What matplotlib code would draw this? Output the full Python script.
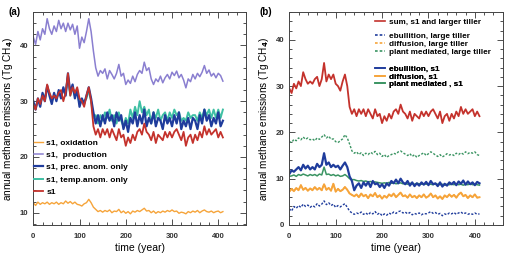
import matplotlib
matplotlib.use("Agg")
import matplotlib.pyplot as plt
from matplotlib.ticker import MultipleLocator

plt.rcParams["font.family"] = ["Liberation Sans", "DejaVu Sans"]
plt.rcParams["font.weight"] = "bold"
plt.rcParams["mathtext.default"] = "bf"

# sampled every 5 years, 0..410
YEARS = list(range(0, 411, 5))

# panel (a)
oxidation = [
    11.8, 11.3, 11.9, 11.5, 11.8, 11.6, 11.9, 11.5, 11.8, 11.6,
    11.9, 11.5, 11.8, 11.6, 12.1, 11.7, 12.0, 11.6, 11.9, 11.5,
    11.4, 11.2, 11.6, 11.8, 12.4, 11.8, 11.0, 10.6, 10.2, 10.4,
    10.1, 10.4, 10.2, 10.5, 10.0, 10.3, 10.2, 10.6, 10.0, 10.3,
    9.9, 10.2, 9.8, 10.3, 10.1, 10.4, 10.2, 10.5, 10.8, 10.3,
    10.4, 10.0, 10.3, 9.9, 10.2, 10.0, 10.3, 10.1, 10.4, 10.2,
    10.5, 10.2, 10.3, 9.9, 10.1, 10.0, 9.8, 10.2, 10.0, 10.3,
    10.1, 10.4, 10.0, 10.3, 10.5, 10.2, 10.1, 10.3, 10.0, 10.2,
    10.3, 10.0, 10.2,
]
production = [
    41.5, 40.2, 42.5, 41.0, 43.0, 42.0, 44.8, 43.0, 42.0, 43.5,
    42.5, 44.5, 43.0, 44.0, 42.5, 44.0, 42.8, 43.8, 42.0, 43.5,
    39.5, 41.5, 40.5, 42.5, 44.8, 42.5, 39.0, 36.0, 34.5, 35.5,
    35.0, 35.8, 34.0, 35.5, 34.8, 34.0, 35.0, 36.6, 34.5, 35.0,
    33.0, 33.8, 33.2, 34.5, 33.5, 34.8, 35.5, 35.0, 37.0, 35.5,
    36.0, 34.0, 33.0, 34.0, 33.5, 34.5, 33.3, 34.2, 34.8, 34.0,
    35.2, 34.6, 35.4, 34.2, 34.8, 33.8, 32.4, 34.0, 33.5, 34.8,
    34.0, 35.0, 34.4, 35.2, 36.4, 35.0, 35.6, 34.5, 35.0, 34.2,
    35.0, 34.6, 33.6,
]
prec_only = [
    30.0, 28.5, 30.5, 29.0, 31.5, 30.0, 32.8, 31.0, 29.5, 31.5,
    30.0, 32.0, 30.5, 32.5, 31.0, 35.0, 31.5, 33.0, 30.5, 32.0,
    29.0, 30.5, 29.5, 31.0, 32.5, 30.5, 28.0, 26.0, 27.5, 25.5,
    27.5, 26.0, 28.0, 26.5, 27.5, 25.5, 28.0, 26.5, 27.5, 25.0,
    26.5, 24.5, 27.0, 26.0, 28.0, 25.5, 27.5, 26.0, 28.5, 25.5,
    27.0, 26.0, 28.0, 25.5, 27.0, 26.5, 25.0, 27.5, 26.0, 27.0,
    25.5, 27.5, 26.0, 28.0, 25.0, 26.5, 25.5, 27.0, 25.0, 27.0,
    26.5, 25.0, 27.5, 26.0, 28.5, 26.5, 27.5, 25.5, 27.0, 26.0,
    28.0, 25.5, 26.5,
]
temp_only = [
    29.5, 28.8, 30.2, 29.5, 31.0, 30.5, 32.5, 31.5, 30.0, 31.0,
    30.5, 31.5, 31.0, 32.0, 31.5, 34.5, 31.0, 32.5, 31.0, 31.5,
    29.5, 30.0, 30.0, 30.5, 32.0, 30.0, 27.0, 27.5, 26.0, 27.5,
    26.5, 28.0, 27.0, 28.5, 26.5, 27.5, 26.0, 28.0, 26.5, 25.5,
    27.0, 26.0, 28.5, 27.0, 29.0, 27.5, 30.0, 28.0, 29.0, 27.5,
    28.5, 26.0, 28.0, 27.0, 28.5, 26.5, 27.5, 28.0, 26.5, 28.0,
    27.0, 28.5, 27.5, 28.0, 26.5, 27.0, 26.5, 28.0, 27.0, 27.5,
    27.5, 26.5, 28.0, 27.0, 28.5, 27.5, 28.5, 27.0, 28.5, 27.0,
    28.5, 27.0, 28.5,
]
s1_total = [
    29.5, 28.5, 30.5, 29.5, 31.0, 30.0, 33.0, 31.5, 30.5, 31.0,
    30.5, 31.5, 32.0, 30.0, 31.5, 35.0, 31.0, 32.5, 31.5, 32.5,
    30.5, 30.0, 29.0, 31.0, 32.5, 30.0, 25.5, 24.0, 25.0, 23.5,
    25.0, 24.0, 25.0, 23.5, 25.0, 24.0, 23.0, 25.0, 23.5, 24.0,
    22.0, 23.5, 22.5, 24.0, 23.0, 24.5, 25.0, 24.0, 26.0, 24.5,
    24.0, 23.0, 24.5, 22.5, 24.0, 23.5, 23.0, 24.5, 23.5, 24.5,
    23.5, 24.5, 25.0, 24.0, 23.0, 24.5, 22.0, 23.5, 24.0, 22.5,
    24.0, 23.0, 24.5, 23.5, 25.5, 24.0, 25.0, 24.0, 24.5, 25.0,
    23.5, 24.5, 23.5,
]

# panel (b)
plant_lt = [
    18.0, 17.8, 18.5, 18.2, 18.8, 18.4, 19.0, 18.5, 18.8, 18.4,
    18.6, 18.2, 18.8, 18.5, 19.0, 19.5, 18.8, 19.2, 18.5, 18.6,
    18.0, 17.8, 18.2, 18.6, 19.5, 18.8, 17.5, 16.0, 15.5, 15.8,
    15.2, 15.6, 15.0, 15.5, 15.2, 15.7, 15.4, 15.9, 15.2, 15.5,
    14.8, 15.2, 14.6, 15.0, 15.2, 15.5, 15.3, 15.8, 16.0, 15.6,
    15.3, 15.0, 15.4, 14.8, 15.2, 14.6, 15.0, 15.3, 15.6, 15.0,
    15.4, 15.8, 15.5, 15.1, 14.8, 15.2, 14.7, 15.0, 15.4, 15.1,
    15.3, 15.0, 15.5, 15.2, 15.6, 15.3, 15.8, 15.4, 15.7, 15.5,
    15.8, 15.2, 15.0,
]
ebullition_s1 = [
    11.0, 11.8, 11.5, 12.0, 12.5, 11.8, 13.0, 12.2, 12.8, 12.0,
    12.5, 12.0, 13.2, 12.5, 13.0, 15.5, 13.0, 13.5, 12.5, 13.0,
    12.5, 12.8, 12.0, 12.8, 13.5, 12.5, 10.5, 9.5, 7.5, 8.5,
    9.0, 8.0, 9.2, 8.5, 9.3, 8.2, 9.5, 8.8, 9.0, 8.2,
    8.8, 8.0, 9.0, 8.5, 9.5, 9.0, 9.8, 9.0, 10.0, 9.2,
    8.8, 9.5, 8.5, 9.2, 8.4, 9.0, 8.5, 9.2, 8.7, 9.3,
    8.6, 9.5, 8.8, 9.0, 8.4, 9.2, 8.3, 8.9, 8.5, 9.2,
    8.8, 9.3, 8.6, 9.4, 8.9, 9.6, 8.7, 9.4, 8.8, 9.2,
    8.6, 9.3, 9.0,
]
plant_s1 = [
    10.5, 10.6, 10.8, 10.5, 10.9, 10.7, 11.0, 10.8, 10.6, 10.9,
    10.7, 10.9, 10.6, 11.0, 10.8, 12.5, 10.9, 11.0, 10.7, 10.9,
    10.6, 10.8, 10.5, 10.6, 10.9, 10.5, 10.0, 9.8, 9.8, 9.6,
    9.5, 9.6, 9.4, 9.5, 9.3, 9.4, 9.2, 9.3, 9.2, 9.1,
    9.0, 9.1, 9.0, 9.2, 9.0, 9.1, 8.9, 9.0, 9.1, 8.9,
    9.0, 8.8, 9.0, 8.9, 8.8, 9.0, 8.9, 8.8, 8.9, 8.8,
    8.9, 8.8, 8.7, 8.9, 8.8, 8.7, 8.8, 8.6, 8.8, 8.7,
    8.8, 8.7, 8.9, 8.7, 8.8, 8.6, 8.8, 8.7, 8.9, 8.7,
    8.8, 8.7, 8.6,
]
diffusion_s1 = [
    7.2, 7.8, 7.3, 8.0, 7.5, 8.6, 7.6, 8.0, 7.4, 7.9,
    7.5, 8.2, 7.6, 8.0, 7.5, 8.8, 7.6, 8.0, 7.4, 8.9,
    7.2, 7.8, 7.3, 7.6, 8.2, 7.6, 6.8, 6.5, 6.2, 6.6,
    6.0, 6.8, 6.2, 6.5, 5.8, 6.6, 6.2, 6.9, 6.0, 6.4,
    5.7, 6.3, 5.9, 6.6, 6.2, 6.8, 6.0, 6.5, 7.0, 6.2,
    6.4, 5.9, 6.6, 6.0, 6.3, 5.8, 6.4, 6.0, 6.6, 5.9,
    6.2, 6.8, 6.0, 6.4, 5.7, 6.2, 5.6, 6.4, 6.0, 6.6,
    6.1, 6.5, 5.9, 6.6, 7.0, 6.2, 6.5, 5.8, 6.4, 6.0,
    6.6, 5.9, 6.0,
]
# diffusion does not change with tiller size; hidden under the s1 curve
diffusion_lt = diffusion_s1
ebullition_lt = [
    3.5, 3.0, 4.0, 3.6, 4.2, 3.8, 4.5, 4.0, 4.3, 3.8,
    4.2, 3.9, 4.6, 4.1, 4.5, 5.2, 4.4, 4.8, 4.2, 4.5,
    3.8, 4.2, 3.9, 4.3, 4.6, 3.8, 3.0, 2.6, 2.3, 2.6,
    2.4, 2.8, 2.3, 2.6, 2.2, 2.7, 2.4, 2.9, 2.3, 2.6,
    2.0, 2.4, 2.1, 2.6, 2.3, 2.8, 2.5, 2.9, 3.0, 2.6,
    2.8, 2.4, 2.7, 2.2, 2.5, 2.3, 2.6, 2.2, 2.5, 2.4,
    2.6, 2.9, 2.5, 2.7, 2.3, 2.5, 2.0, 2.4, 2.2, 2.6,
    2.4, 2.7, 2.3, 2.6, 2.8, 2.4, 2.6, 2.3, 2.5, 2.3,
    2.6, 2.3, 2.4,
]

RED = "#c4322c"
PURPLE = "#8a7fd0"
BLUE = "#1f3c9c"
TEAL = "#3fc0a4"
ORANGE = "#f6a43a"
GREEN = "#3a9462"
DOT = (0, (1.6, 1.2))


def style(ax, ylim, ymajor):
    ax.set_xlim(0, 460)
    ax.set_ylim(*ylim)
    ax.xaxis.set_major_locator(MultipleLocator(100))
    ax.xaxis.set_minor_locator(MultipleLocator(20))
    ax.yaxis.set_major_locator(MultipleLocator(ymajor))
    ax.yaxis.set_minor_locator(MultipleLocator(2))
    ax.tick_params(which="both", direction="in", top=True, right=True,
                   labelsize=5.6, colors="#333333", width=0.6)
    ax.tick_params(which="major", length=4)
    ax.tick_params(which="minor", length=2)
    ax.tick_params(axis="x", pad=5.5)
    ax.tick_params(axis="y", pad=3.5)
    for s in ax.spines.values():
        s.set_color("#444444")
        s.set_linewidth(0.7)
    ax.set_xlabel("time (year)", fontsize=7.5, labelpad=2.5)
    ax.set_ylabel("annual methane emissions (Tg CH$_4$)", fontsize=7.2, labelpad=3.5)


fig = plt.figure(figsize=(5.12, 2.61), dpi=100)
ax1 = fig.add_axes([0.065, 0.138, 0.4155, 0.816])
ax2 = fig.add_axes([0.565, 0.138, 0.4168, 0.816])

ax1.plot(YEARS, production, color=PURPLE, lw=1.1, label="s1,  production")
ax1.plot(YEARS, temp_only, color=TEAL, lw=1.4, label="s1, temp.anom. only")
ax1.plot(YEARS, prec_only, color=BLUE, lw=1.6, label="s1, prec. anom. only")
ax1.plot(YEARS, s1_total, color=RED, lw=1.3, label="s1")
ax1.plot(YEARS, oxidation, color=ORANGE, lw=1.0, label="s1, oxidation")
style(ax1, (7.8, 46), 10)
h, l = ax1.get_legend_handles_labels()
order = [4, 0, 2, 1, 3]
ax1.legend([h[i] for i in order], [l[i] for i in order], loc="upper left",
           bbox_to_anchor=(0.003, 0.405), frameon=False, fontsize=6.0,
           handlelength=1.1, handletextpad=0.4, labelspacing=0.55,
           borderpad=0, borderaxespad=0)

ax2.plot(YEARS, plant_lt, color=GREEN, lw=1.0, ls=DOT)
ax2.plot(YEARS, diffusion_lt, color=ORANGE, lw=1.0, ls=DOT)
ax2.plot(YEARS, plant_s1, color=GREEN, lw=1.1)
ax2.plot(YEARS, diffusion_s1, color=ORANGE, lw=1.4)
ax2.plot(YEARS, ebullition_s1, color=BLUE, lw=1.6)
ax2.plot(YEARS, ebullition_lt, color=BLUE, lw=1.0, ls=DOT)
ax2.plot(YEARS, s1_total, color=RED, lw=1.3)
style(ax2, (0, 46), 10)

groups = [
    ([("sum, s1 and larger tiller", RED, "-")], 0.969),
    ([("ebullition, large tiller", BLUE, DOT),
      ("diffusion, large tiller", ORANGE, DOT),
      ("plant mediated, large tiller", GREEN, DOT)], 0.906),
    ([("ebullition, s1", BLUE, "-"),
      ("diffusion, s1", ORANGE, "-"),
      ("plant mediated , s1", GREEN, "-")], 0.752),
]
for entries, top in groups:
    hs = [plt.Line2D([], [], color=c, ls=ls, lw=1.2) for _, c, ls in entries]
    leg = ax2.legend(hs, [e[0] for e in entries], loc="upper left",
                     bbox_to_anchor=(0.40, top), frameon=False, fontsize=5.9,
                     handlelength=1.3, handletextpad=0.45, labelspacing=0.02,
                     borderpad=0, borderaxespad=0)
    ax2.add_artist(leg)

fig.text(0.016, 0.954, "(a)", fontsize=7, va="center")
fig.text(0.506, 0.954, "(b)", fontsize=7, va="center")

fig.savefig("out.png", dpi=100)
